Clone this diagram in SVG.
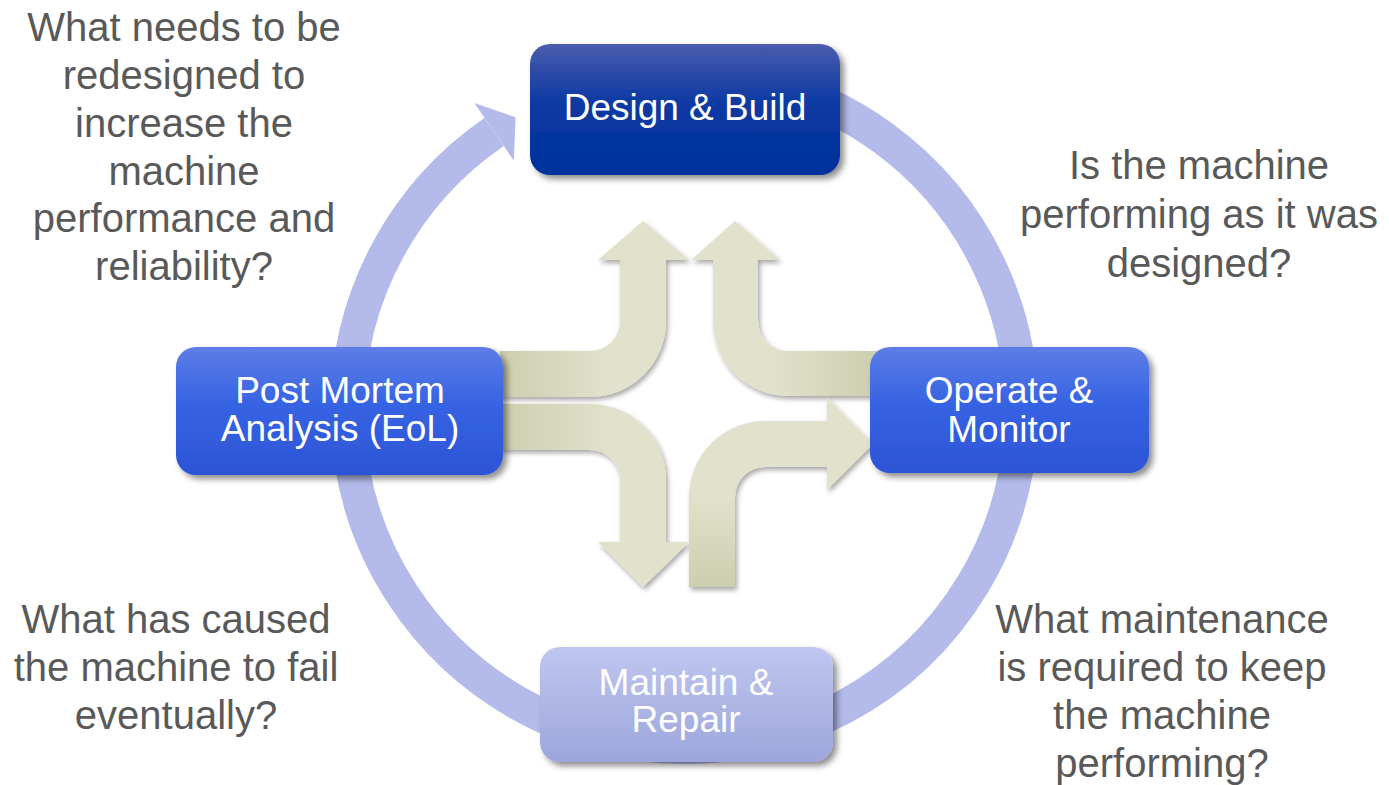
<svg xmlns="http://www.w3.org/2000/svg" width="1389" height="785" viewBox="0 0 1389 785">
  <style>
    .q { font-family: "Liberation Sans", Arial, sans-serif; font-size: 40px; fill: #595959; text-anchor: middle; }
    .t { font-family: "Liberation Sans", Arial, sans-serif; font-size: 37px; fill: #ffffff; text-anchor: middle; }
    .ring { fill: none; stroke: #B4BBEA; stroke-width: 34; }
  </style>
  <defs>
    <filter id="boxShadow" x="-10%" y="-10%" width="125%" height="130%">
      <feDropShadow dx="4" dy="4" stdDeviation="3" flood-color="#000" flood-opacity="0.45"/>
    </filter>
    <filter id="arrowShadow" x="-10%" y="-10%" width="125%" height="125%">
      <feDropShadow dx="2" dy="3" stdDeviation="2.5" flood-color="#000" flood-opacity="0.35"/>
    </filter>
    <linearGradient id="gDark" x1="0" y1="0" x2="0" y2="1">
      <stop offset="0" stop-color="#4B5CAD"/>
      <stop offset="0.45" stop-color="#0B3AA3"/>
      <stop offset="1" stop-color="#00319C"/>
    </linearGradient>
    <linearGradient id="gMid" x1="0" y1="0" x2="0" y2="1">
      <stop offset="0" stop-color="#5E7DE8"/>
      <stop offset="0.45" stop-color="#3663E3"/>
      <stop offset="1" stop-color="#2C54D6"/>
    </linearGradient>
    <linearGradient id="gLight" x1="0" y1="0" x2="0" y2="1">
      <stop offset="0" stop-color="#BFC6EF"/>
      <stop offset="1" stop-color="#9DA6DC"/>
    </linearGradient>
    <linearGradient id="gA" gradientUnits="userSpaceOnUse" x1="500" y1="0" x2="610" y2="0">
      <stop offset="0" stop-color="#CDCDAF"/>
      <stop offset="1" stop-color="#E2E2CC"/>
    </linearGradient>
    <linearGradient id="gB" gradientUnits="userSpaceOnUse" x1="878" y1="0" x2="770" y2="0">
      <stop offset="0" stop-color="#CDCDAF"/>
      <stop offset="1" stop-color="#E2E2CC"/>
    </linearGradient>
    <linearGradient id="gD" gradientUnits="userSpaceOnUse" x1="0" y1="587" x2="0" y2="495">
      <stop offset="0" stop-color="#CDCDAF"/>
      <stop offset="1" stop-color="#E2E2CC"/>
    </linearGradient>
  </defs>

  <rect width="1389" height="785" fill="#ffffff"/>

  <g id="connectors">
    <g id="cycle-ring">
      <path class="ring" d="M 560.0 96.9 A 337 337 0 1 1 494.1 132.0"/>
      <polygon fill="#B4BBEA" points="474.3,103.1 515.6,117.3 513.9,160.8"/>
    </g>
    <g id="center-arrows" filter="url(#arrowShadow)">
      <path id="arrow-pm-design" fill="url(#gA)" d="M 500 351 H 590 A 30 30 0 0 0 620 321 V 260 H 598 L 643 221 L 689 260 H 666 V 321 A 76 76 0 0 1 590 397 H 500 Z"/>
      <path id="arrow-op-design" fill="url(#gB)" d="M 878 351 H 788 A 30 30 0 0 1 758 321 V 260 H 780 L 735 221 L 691 260 H 713 V 321 A 75 75 0 0 0 788 396 H 878 Z"/>
      <path id="arrow-pm-maintain" fill="url(#gA)" d="M 500 404 H 590 A 76 76 0 0 1 666 480 V 542 H 689 L 643 587 L 598 542 H 620 V 480 A 30 30 0 0 0 590 450 H 500 Z"/>
      <path id="arrow-maintain-op" fill="url(#gD)" d="M 689 587 V 497 A 76 76 0 0 1 765 421 H 827 V 398 L 873 444 L 827 490 V 467 H 765 A 30 30 0 0 0 735 497 V 587 Z"/>
    </g>
  </g>

  <g id="node-design">
    <rect x="530" y="44" width="310" height="131" rx="20" fill="url(#gDark)" filter="url(#boxShadow)"/>
    <text class="t" x="685" y="120">Design &amp; Build</text>
  </g>

  <g id="node-postmortem">
    <rect x="176" y="347" width="327" height="128" rx="20" fill="url(#gMid)" filter="url(#boxShadow)"/>
    <text class="t" x="340" y="403">Post Mortem</text>
    <text class="t" x="340" y="441">Analysis (EoL)</text>
  </g>

  <g id="node-operate">
    <rect x="870" y="347" width="279" height="126" rx="20" fill="url(#gMid)" filter="url(#boxShadow)"/>
    <text class="t" x="1009" y="403">Operate &amp;</text>
    <text class="t" x="1009" y="442">Monitor</text>
  </g>

  <g id="node-maintain">
    <rect x="540" y="647" width="293" height="115" rx="20" fill="url(#gLight)" filter="url(#boxShadow)"/>
    <text class="t" x="686" y="695">Maintain &amp;</text>
    <text class="t" x="686" y="732">Repair</text>
  </g>

  <g id="questions">
    <text class="q" x="184" y="41">What needs to be</text>
    <text class="q" x="184" y="89">redesigned to</text>
    <text class="q" x="184" y="137">increase the</text>
    <text class="q" x="184" y="185">machine</text>
    <text class="q" x="184" y="232">performance and</text>
    <text class="q" x="184" y="280">reliability?</text>

    <text class="q" x="1199" y="179">Is the machine</text>
    <text class="q" x="1199" y="228">performing as it was</text>
    <text class="q" x="1199" y="277">designed?</text>

    <text class="q" x="176" y="633">What has caused</text>
    <text class="q" x="176" y="681">the machine to fail</text>
    <text class="q" x="176" y="729">eventually?</text>

    <text class="q" x="1162" y="633">What maintenance</text>
    <text class="q" x="1162" y="681">is required to keep</text>
    <text class="q" x="1162" y="729">the machine</text>
    <text class="q" x="1162" y="777">performing?</text>
  </g>
</svg>
